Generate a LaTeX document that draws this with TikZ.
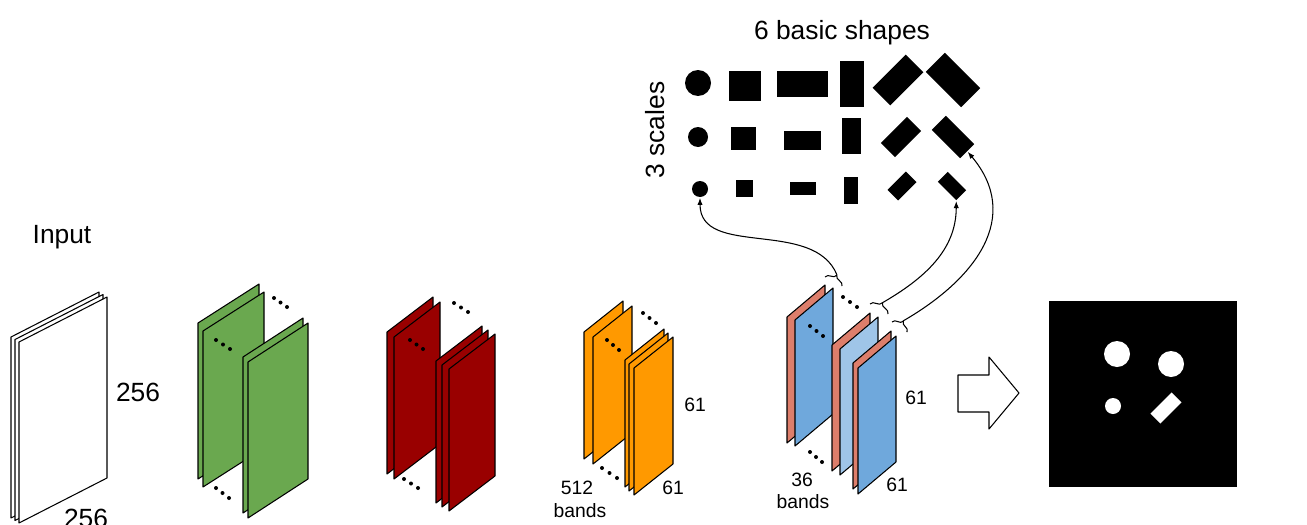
\documentclass[tikz,border=0pt]{standalone}
\usepackage{fontspec}
\setmainfont{Liberation Sans}
\usetikzlibrary{arrows.meta,decorations.pathreplacing}
\definecolor{mapGreen}{HTML}{6AA84F}
\definecolor{mapRed}{HTML}{990000}
\definecolor{mapOrange}{HTML}{FF9900}
\definecolor{mapSalmon}{HTML}{DD7E6B}
\definecolor{mapBlue}{HTML}{6FA8DC}
\definecolor{mapLightBlue}{HTML}{9FC5E8}

% sheet: fill, x, y of top-left corner, width, rise, height
\newcommand{\sheet}[6]{\draw[fill=#1] (#2,#3) -- ++(#4,-#5) -- ++(0,#6) -- ++(-#4,#5) -- cycle;}
% three dots: x, y, step x, step y
\newcommand{\dotrow}[4]{\foreach \k in {0,1,2} \fill ({#1+\k*#3},{#2+\k*#4}) circle[radius=2];}

\begin{document}
\begin{tikzpicture}[x=0.02cm, y=-0.02cm, line width=0.6pt, line join=round,
  big/.style={font=\fontsize{15}{18}\selectfont},
  small/.style={font=\fontsize{11}{13}\selectfont},
  shp/.style={fill=black, inner sep=0pt, outer sep=0pt},
  lbrace/.style={decorate, decoration={brace, amplitude=4pt}},
  feed/.style={-{Latex[length=4pt,width=3pt]}, shorten >=0.5pt}]
  \useasboundingbox (0,0) rectangle (1307,524);

  % 1. Input
  \sheet{white}{11}{337}{88}{45}{181}
  \sheet{white}{15}{339.5}{88}{45}{181}
  \sheet{white}{19}{342}{88}{45}{181}
  \node[big] (input) at (62,237) {Input};
  \node[big] (inh) at (138,392) {256};
  \node[big] (inw) at (86,518) {256};

  % 2. first maps
  \sheet{mapGreen}{198}{323}{61}{39}{156}
  \sheet{mapGreen}{203}{331}{61}{39}{156}
  \sheet{mapGreen}{243}{357}{60}{39}{156}
  \sheet{mapGreen}{248}{362}{60}{39}{156}
  \dotrow{274}{298}{6.5}{4.5}
  \dotrow{216}{340}{7}{4.5}
  \dotrow{216}{488}{6.5}{5}

  % 3. second maps
  \sheet{mapRed}{387}{332}{46}{35}{142}
  \sheet{mapRed}{394}{337}{46}{35}{142}
  \sheet{mapRed}{436}{361}{46}{35}{142}
  \sheet{mapRed}{442}{365}{46}{35}{142}
  \sheet{mapRed}{449}{369}{46}{35}{142}
  \dotrow{454}{303}{7}{4.5}
  \dotrow{410}{340}{6.5}{4.5}
  \dotrow{404}{479}{7}{4.5}

  % 4. 512 bands
  \sheet{mapOrange}{584}{332}{39}{31}{127}
  \sheet{mapOrange}{593}{337}{39}{31}{127}
  \sheet{mapOrange}{625}{360}{39}{31}{127}
  \sheet{mapOrange}{629}{364}{39}{31}{127}
  \sheet{mapOrange}{634}{368}{39}{31}{127}
  \dotrow{643}{313}{6.5}{5}
  \dotrow{607}{340}{6}{5}
  \dotrow{602}{468}{7.5}{5}
  \node[small] (oh) at (695,405) {61};
  \node[small] (ow) at (673,488) {61};
  \node[small] (on) at (577,488) {512};
  \node[small] (ob) at (580,511) {bands};

  % 5. 36 bands
  \sheet{mapSalmon}{787}{317}{38}{32}{126}
  \sheet{mapBlue}{795}{320}{38}{32}{126}
  \sheet{mapSalmon}{832}{345}{38}{32}{126}
  \sheet{mapLightBlue}{840}{349}{38}{32}{126}
  \sheet{mapSalmon}{853}{363}{38}{32}{126}
  \sheet{mapBlue}{858}{368}{38}{32}{126}
  \dotrow{843}{297}{7}{5}
  \dotrow{810}{326}{6.5}{5}
  \dotrow{810}{452}{6}{5}
  \node[small] (bh) at (916,398) {61};
  \node[small] (bw) at (897,485) {61};
  \node[small] (bn) at (802,480) {36};
  \node[small] (bb) at (803,502) {bands};

  % 6. basic shapes
  \node[big] (shapes) at (842,33) {6 basic shapes};
  \node[big, rotate=90] (scales) at (655,130) {3 scales};
  \node[shp, circle, minimum size=0.52cm] (s11) at (698,83) {};
  \node[shp, minimum width=0.64cm, minimum height=0.6cm] (s12) at (745,86) {};
  \node[shp, minimum width=1.02cm, minimum height=0.54cm] (s13) at (802,84) {};
  \node[shp, minimum width=0.48cm, minimum height=0.92cm] (s14) at (852,84) {};
  \node[shp, minimum width=0.94cm, minimum height=0.5cm, rotate=45] (s15) at (898,80) {};
  \node[shp, minimum width=1cm, minimum height=0.54cm, rotate=-45] (s16) at (953,80) {};
  \node[shp, circle, minimum size=0.4cm] (s21) at (698,137) {};
  \node[shp, minimum width=0.5cm, minimum height=0.46cm] (s22) at (743,138) {};
  \node[shp, minimum width=0.74cm, minimum height=0.38cm] (s23) at (802,140) {};
  \node[shp, minimum width=0.38cm, minimum height=0.74cm] (s24) at (851,136) {};
  \node[shp, minimum width=0.74cm, minimum height=0.4cm, rotate=45] (s25) at (901,137) {};
  \node[shp, minimum width=0.8cm, minimum height=0.4cm, rotate=-45] (s26) at (953,137) {};
  \node[shp, circle, minimum size=0.32cm] (s31) at (700,189) {};
  \node[shp, minimum width=0.34cm, minimum height=0.34cm] (s32) at (744,188) {};
  \node[shp, minimum width=0.52cm, minimum height=0.26cm] (s33) at (803,188) {};
  \node[shp, minimum width=0.28cm, minimum height=0.54cm] (s34) at (851,190) {};
  \node[shp, minimum width=0.52cm, minimum height=0.3cm, rotate=45] (s35) at (902,186) {};
  \node[shp, minimum width=0.52cm, minimum height=0.28cm, rotate=-45] (s36) at (952,186) {};

  % 7. braces and links to the shapes
  \draw[lbrace] (825,277) -- (842,286);
  \draw[lbrace] (870,304) -- (888,314);
  \draw[lbrace] (892,322) -- (907,332);
  \coordinate (t1) at (837,275);
  \coordinate (t2) at (882,303);
  \coordinate (t3) at (903,321);
  \draw[feed] (t1) to[out=112,in=-90] (s31.south);
  \draw[feed] (t2) to[out=30,in=-90] (s36.south east);
  \draw[feed] (t3) to[out=30,in=-50,looseness=1.2] (s26.east);

  % 8. output
  \draw (958,375) -- (989,375) -- (989,357) -- (1019,393) -- (989,429) -- (989,412) -- (958,412) -- cycle;
  \fill (1049,301) rectangle (1237,487);
  \fill[white] (1117,354) circle[radius=13];
  \fill[white] (1171,364) circle[radius=13];
  \fill[white] (1113,406) circle[radius=8];
  \fill[white, rotate around={45:(1166,408)}] (1151,401) rectangle (1181,415);
\end{tikzpicture}
\end{document}
